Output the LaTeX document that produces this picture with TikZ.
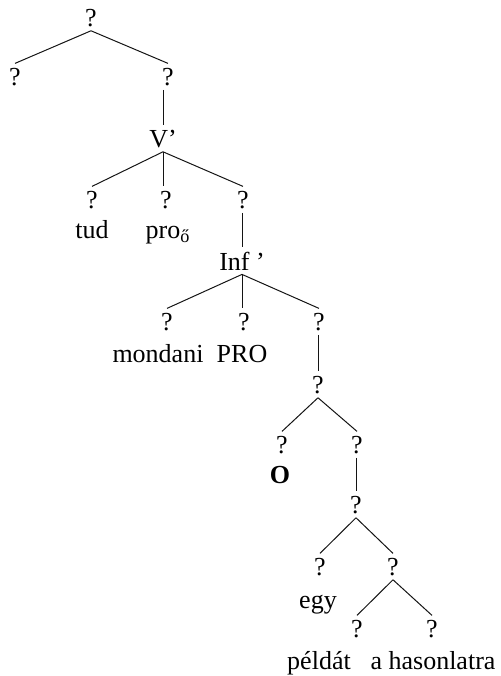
\documentclass[tikz,border=0pt]{standalone}
\usepackage{fontspec}
\setmainfont{Liberation Serif}
\usepackage{tikz}
\usetikzlibrary{positioning}
\definecolor{lineblack}{RGB}{20,20,20}

\begin{document}
\begin{tikzpicture}[x=0.5pt, y=-0.5pt, font=\fontsize{13}{15}\selectfont,
  cat/.style={anchor=base, inner sep=2pt},
  word/.style={anchor=base, inner sep=0pt},
  branch/.style={draw=lineblack, line width=0.5pt}]
\useasboundingbox (0,0) rectangle (501,676);

% top of the tree
\node[cat] (top) at (91,26) {?};
\node[cat] (spec) at (15,85) {?};
\node[cat] (bar) at (168,85) {?};
\node[cat] (vbar) at (163,147) {V’};
\draw[branch] (top.south) -- (spec.north);
\draw[branch] (top.south) -- (bar.north);
\draw[branch] (vbar.north |- bar.south) -- (vbar.north);

% V' level
\node[cat] (v) at (92,208) {?};
\node[cat] (vpro) at (166,208) {?};
\node[cat] (vcomp) at (243,208) {?};
\node[word] (tud) at (92,238) {tud};
\node[word] (pro) at (168,238) {pro\textsubscript{ő}};
\draw[branch] (vbar.south) -- (v.north);
\draw[branch] (vbar.south) -- (vbar.south |- vpro.north);
\draw[branch] (vbar.south) -- (vcomp.north);

% Inf' level
\node[cat] (inf) at (242,270) {Inf ’};
\draw[branch] (inf.north |- vcomp.south) -- (inf.north);
\node[cat] (infv) at (167,330) {?};
\node[cat] (infpro) at (244,330) {?};
\node[cat] (infcomp) at (319,330) {?};
\node[word] (mondani) at (158,362) {mondani};
\node[word] (bigpro) at (242,362) {PRO};
\draw[branch] (inf.south) -- (infv.north);
\draw[branch] (inf.south) -- (inf.south |- infpro.north);
\draw[branch] (inf.south) -- (infcomp.north);

% object
\node[cat] (obj) at (318,393) {?};
\draw[branch] (obj.north |- infcomp.south) -- (obj.north);
\node[cat] (objop) at (282,453) {?};
\node[cat] (objrest) at (357,453) {?};
\node[word] (zero) at (280,483) {\textbf{O}};
\draw[branch] (obj.south) -- (objop.north);
\draw[branch] (obj.south) -- (objrest.north);

% noun phrase
\node[cat] (np) at (356,513) {?};
\draw[branch] (np.north |- objrest.south) -- (np.north);
\node[cat] (det) at (320,575) {?};
\node[cat] (nbar) at (393,575) {?};
\node[word] (egy) at (318,608) {egy};
\draw[branch] (np.south) -- (det.north);
\draw[branch] (np.south) -- (nbar.north);

\node[cat] (noun) at (357,637) {?};
\node[cat] (adj) at (432,637) {?};
\node[word] (peldat) at (319,669) {példát};
\node[word] (hasonlatra) at (433,669) {a hasonlatra};
\draw[branch] (nbar.south) -- (noun.north);
\draw[branch] (nbar.south) -- (adj.north);
\end{tikzpicture}
\end{document}
